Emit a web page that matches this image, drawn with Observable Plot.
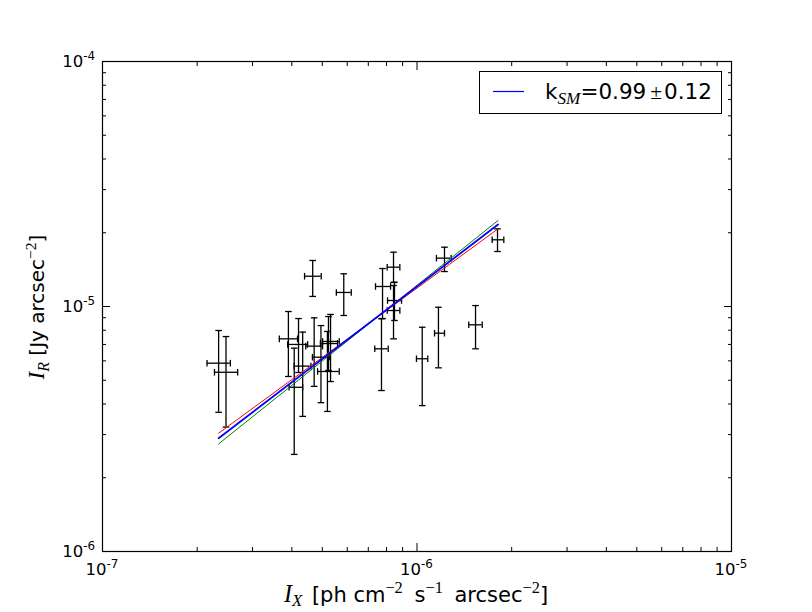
<!DOCTYPE html>
<html>
<head>
<meta charset="utf-8">
<script src="https://cdn.jsdelivr.net/npm/d3@7"></script>
<script src="https://cdn.jsdelivr.net/npm/@observablehq/plot@0.6"></script>
<style>
  html, body { margin: 0; padding: 0; background: white; }
</style>
</head>
<body>
<div id="chart"></div>
<script>
// ---- data ----
const xVal = [2.34e-7, 2.47e-7, 3.90e-7, 4.20e-7, 4.07e-7, 4.33e-7, 4.71e-7, 4.95e-7, 5.31e-7, 5.23e-7, 5.19e-7, 4.66e-7, 5.85e-7, 7.77e-7, 7.71e-7, 8.42e-7, 8.48e-7, 8.42e-7, 1.039e-6, 1.170e-6, 1.223e-6, 1.535e-6, 1.803e-6];
const xLo  = [2.15e-7, 2.27e-7, 3.65e-7, 3.88e-7, 3.92e-7, 4.07e-7, 4.43e-7, 4.65e-7, 5.01e-7, 4.93e-7, 4.83e-7, 4.39e-7, 5.54e-7, 7.38e-7, 7.34e-7, 8.04e-7, 8.06e-7, 8.04e-7, 0.996e-6, 1.137e-6, 1.153e-6, 1.461e-6, 1.734e-6];
const xHi  = [2.55e-7, 2.69e-7, 4.17e-7, 4.49e-7, 4.33e-7, 4.60e-7, 5.01e-7, 5.26e-7, 5.66e-7, 5.59e-7, 5.66e-7, 4.96e-7, 6.18e-7, 8.24e-7, 8.10e-7, 8.82e-7, 8.93e-7, 8.82e-7, 1.082e-6, 1.223e-6, 1.284e-6, 1.612e-6, 1.888e-6];
const yVal = [5.87e-6, 5.39e-6, 7.38e-6, 7.00e-6, 4.68e-6, 5.71e-6, 6.89e-6, 6.21e-6, 7.20e-6, 7.06e-6, 5.43e-6, 1.329e-5, 1.141e-5, 1.207e-5, 6.72e-6, 1.447e-5, 1.058e-5, 9.63e-6, 6.12e-6, 7.78e-6, 1.575e-5, 8.42e-6, 1.872e-5];
const yLo  = [3.70e-6, 3.22e-6, 5.18e-6, 5.38e-6, 2.49e-6, 3.56e-6, 4.72e-6, 4.05e-6, 4.94e-6, 5.48e-6, 3.73e-6, 1.099e-5, 9.19e-6, 8.93e-6, 4.54e-6, 1.253e-5, 8.77e-6, 7.38e-6, 3.94e-6, 5.62e-6, 1.389e-5, 6.72e-6, 1.677e-5];
const yHi  = [7.98e-6, 7.54e-6, 9.54e-6, 8.93e-6, 6.76e-6, 7.86e-6, 8.99e-6, 8.36e-6, 9.28e-6, 9.10e-6, 7.91e-6, 1.541e-5, 1.360e-5, 1.429e-5, 8.91e-6, 1.666e-5, 1.257e-5, 1.218e-5, 8.23e-6, 9.93e-6, 1.746e-5, 1.009e-5, 2.075e-5];

// fitted power laws (end points)
const fitX     = [2.34e-7, 1.81e-6];
const fitRed   = [3.04e-6, 2.075e-5];
const fitGreen = [2.75e-6, 2.244e-5];
const fitBlue  = [2.90e-6, 2.161e-5];

const xMajor = [1e-7, 1e-6, 1e-5];
const yMajor = [1e-6, 1e-5, 1e-4];
const majorExp = {"-7": "-7", "-6": "-6", "-5": "-5", "-4": "-4"};
const mult = [2, 3, 4, 5, 6, 7, 8, 9];
const xMinor = [1e-7, 1e-6].flatMap(d => mult.map(m => m * d));
const yMinor = [1e-6, 1e-5].flatMap(d => mult.map(m => m * d));

const legendValue = "0.99";
const legendErr = "0.12";

// ---- build tables ----
const points = xVal.map((x, i) => ({x, xlo: xLo[i], xhi: xHi[i], y: yVal[i], ylo: yLo[i], yhi: yHi[i]}));
const fits = [
  {name: "red", ys: fitRed},
  {name: "green", ys: fitGreen},
  {name: "blue", ys: fitBlue}
].flatMap(f => fitX.map((x, i) => ({series: f.name, x, y: f.ys[i]})));

const hcap = {draw(ctx, size) { const r = Math.sqrt(size / Math.PI); ctx.moveTo(-r, 0); ctx.lineTo(r, 0); }};
const vcap = {draw(ctx, size) { const r = Math.sqrt(size / Math.PI); ctx.moveTo(0, -r); ctx.lineTo(0, r); }};
const blank = () => "";

const chart = Plot.plot({
  width: 812,
  height: 612,
  marginLeft: 102,
  marginRight: 81,
  marginTop: 61,
  marginBottom: 61,
  x: {type: "log", domain: [1e-7, 1e-5]},
  y: {type: "log", domain: [1e-6, 1e-4]},
  style: {background: "white", fontFamily: "DejaVu Sans, sans-serif", color: "black"},
  marks: [
    // error bars
    Plot.ruleX(points, {x: "x", y1: "ylo", y2: "yhi", stroke: "black", strokeWidth: 1.3}),
    Plot.ruleY(points, {y: "y", x1: "xlo", x2: "xhi", stroke: "black", strokeWidth: 1.3}),
    Plot.dot(points, {x: "x", y: "ylo", symbol: hcap, r: 3.3, stroke: "black", strokeWidth: 1.3, fill: "none"}),
    Plot.dot(points, {x: "x", y: "yhi", symbol: hcap, r: 3.3, stroke: "black", strokeWidth: 1.3, fill: "none"}),
    Plot.dot(points, {x: "xlo", y: "y", symbol: vcap, r: 3.3, stroke: "black", strokeWidth: 1.3, fill: "none"}),
    Plot.dot(points, {x: "xhi", y: "y", symbol: vcap, r: 3.3, stroke: "black", strokeWidth: 1.3, fill: "none"}),
    // fit lines
    Plot.line(fits.filter(d => d.series === "red"), {x: "x", y: "y", stroke: "red", strokeWidth: 1}),
    Plot.line(fits.filter(d => d.series === "green"), {x: "x", y: "y", stroke: "green", strokeWidth: 1}),
    Plot.line(fits.filter(d => d.series === "blue"), {x: "x", y: "y", stroke: "blue", strokeWidth: 1.8}),
    // frame
    Plot.frame({stroke: "black", strokeWidth: 1.2}),
    // major ticks inside, all sides
    Plot.axisX(xMajor, {anchor: "bottom", tickSize: 8, dy: -8, tickFormat: blank, label: null}),
    Plot.axisX(xMajor, {anchor: "top", tickSize: 8, dy: 8, tickFormat: blank, label: null}),
    Plot.axisY(yMajor, {anchor: "left", tickSize: 8, dx: 8, tickFormat: blank, label: null}),
    Plot.axisY(yMajor, {anchor: "right", tickSize: 8, dx: -8, tickFormat: blank, label: null}),
    // minor ticks inside, all sides
    Plot.axisX(xMinor, {anchor: "bottom", tickSize: 4, dy: -4, tickFormat: blank, label: null}),
    Plot.axisX(xMinor, {anchor: "top", tickSize: 4, dy: 4, tickFormat: blank, label: null}),
    Plot.axisY(yMinor, {anchor: "left", tickSize: 4, dx: 4, tickFormat: blank, label: null}),
    Plot.axisY(yMinor, {anchor: "right", tickSize: 4, dx: -4, tickFormat: blank, label: null})
  ]
});

document.getElementById("chart").appendChild(chart);

// ---- rich text labels (math-style) ----
const svg = d3.select(chart);
const MATH = "'Liberation Serif', 'DejaVu Serif', serif";
const SANS = "'DejaVu Sans', sans-serif";

function richText(parent, segs, size, anchor, subShift = 0.25) {
  const t = parent.append("text").attr("fill", "black").attr("font-size", size)
    .attr("text-anchor", anchor).style("white-space", "pre");
  let shift = 0;
  for (const s of segs) {
    const sp = t.append("tspan").text(s.t);
    let target = 0, fs = size;
    if (s.kind === "math") { sp.attr("font-family", MATH).attr("font-style", "italic"); fs = size * 1.15; }
    else if (s.kind === "sub") { sp.attr("font-family", MATH).attr("font-style", "italic"); fs = size * 0.8; target = size * subShift; }
    else if (s.kind === "sup") { sp.attr("font-family", MATH); fs = size * 0.78; target = -size * 0.42; }
    else if (s.kind === "tsup") { sp.attr("font-family", SANS); fs = size * 0.72; target = -size * 0.45; }
    else if (s.kind === "pm") { sp.attr("font-family", MATH); fs = size * 1.0; }
    else { sp.attr("font-family", SANS); }
    sp.attr("font-size", fs);
    const dy = target - shift;
    if (dy !== 0) sp.attr("dy", dy);
    if (s.dx) sp.attr("dx", s.dx);
    shift = target;
  }
  return t;
}

// tick labels via the plot's own scales
const sx = chart.scale("x"), sy = chart.scale("y");
const expOf = d => majorExp[String(Math.round(Math.log10(d)))];
for (const v of xMajor) {
  richText(svg.append("g").attr("transform", `translate(${sx.apply(v)},575)`),
    [{t: "10", kind: "n"}, {t: expOf(v), kind: "tsup"}], 16.5, "middle");
}
for (const v of yMajor) {
  richText(svg.append("g").attr("transform", `translate(95,${sy.apply(v) + 6})`),
    [{t: "10", kind: "n"}, {t: expOf(v), kind: "tsup"}], 16.5, "end");
}

// x label
richText(svg.append("g").attr("transform", "translate(416,602)"), [
  {t: "I", kind: "math"}, {t: "X", kind: "sub"},
  {t: " [ph cm", kind: "n", dx: 3}, {t: "−2", kind: "sup"},
  {t: " s", kind: "n", dx: 5}, {t: "−1", kind: "sup"},
  {t: " arcsec", kind: "n", dx: 5}, {t: "−2", kind: "sup"},
  {t: "]", kind: "n"}
], 21, "middle", 0.18);

// y label
richText(svg.append("g").attr("transform", "translate(44,307) rotate(-90)"), [
  {t: "I", kind: "math"}, {t: "R", kind: "sub"},
  {t: " [Jy arcsec", kind: "n"}, {t: "−2", kind: "sup"},
  {t: "]", kind: "n"}
], 20, "middle");

// legend
const lg = svg.append("g");
lg.append("rect").attr("x", 479.5).attr("y", 71.5).attr("width", 242).attr("height", 42)
  .attr("fill", "white").attr("stroke", "black").attr("stroke-width", 1);
lg.append("line").attr("x1", 493).attr("x2", 524).attr("y1", 91.5).attr("y2", 91.5)
  .attr("stroke", "blue").attr("stroke-width", 1.2);
richText(lg.append("g").attr("transform", "translate(545,99)"), [
  {t: "k", kind: "n"}, {t: "SM", kind: "sub"},
  {t: "=" + legendValue, kind: "n"}, {t: "±", kind: "pm", dx: 4}, {t: legendErr, kind: "n", dx: 2}
], 21.5, "start");
</script>
</body>
</html>
